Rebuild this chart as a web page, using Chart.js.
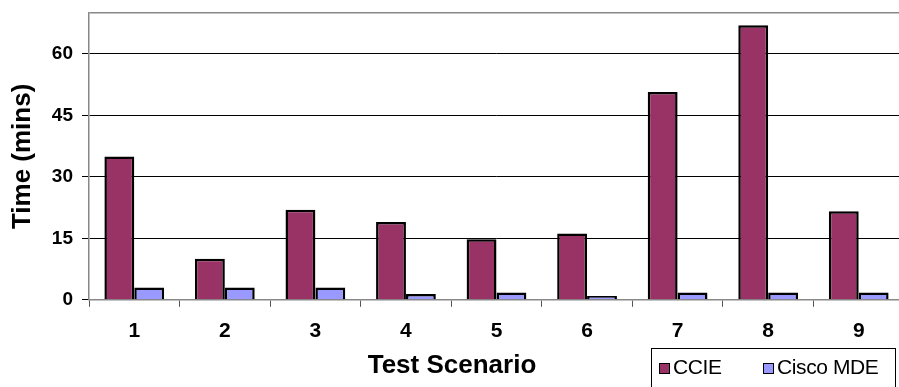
<!DOCTYPE html>
<html>
<head>
<meta charset="utf-8">
<script src="https://cdn.jsdelivr.net/npm/chart.js@4/dist/chart.umd.min.js"></script>
<style>
    html, body { margin: 0; padding: 0; background: #fff; overflow: hidden; }
    #wrap { position: relative; width: 899px; height: 387px; overflow: hidden; }
    #myChart { position: absolute; left: 0; top: 0; }
    #legend {
        position: absolute; left: 651px; top: 348px; width: 245px; height: 60px;
        border: 1px solid #000; box-sizing: border-box;
        font-family: "Liberation Sans", Arial, sans-serif; font-size: 21px; letter-spacing: -0.4px;
    }
    #legend span.item { position: absolute; top: 6px; white-space: nowrap; }
    #legend span.box {
        display: inline-block; width: 9px; height: 9px; border: 1px solid #000;
        margin-right: 3px; vertical-align: 0px;
    }
</style>
</head>
<body>
<div id="wrap">
    <canvas id="myChart" width="906" height="387"></canvas>
    <div id="legend"></div>
</div>
<script>
// Data
var scenarios = ['1', '2', '3', '4', '5', '6', '7', '8', '9'];
var ccieTimes = [35, 10, 22, 19, 14.8, 16.2, 50.7, 67, 21.6];
var mdeTimes = [3, 3, 3, 1.4, 1.8, 0.9, 1.8, 1.8, 1.8];
var seriesNames = ['CCIE', 'Cisco MDE'];
var seriesColors = ['#993366', '#9999FF'];
var yTickValues = [0, 15, 30, 45, 60];

document.addEventListener('DOMContentLoaded', function() {
    var font = '"Liberation Sans", Arial, sans-serif';
    var ctx = document.getElementById('myChart').getContext('2d');

    var myChart = new Chart(ctx, {
        type: 'bar',
        data: {
            labels: scenarios,
            datasets: [{
                label: seriesNames[0],
                data: ccieTimes,
                backgroundColor: seriesColors[0],
                borderColor: '#000',
                borderWidth: 2.5
            }, {
                label: seriesNames[1],
                data: mdeTimes,
                backgroundColor: seriesColors[1],
                borderColor: '#000',
                borderWidth: 2.5
            }]
        },
        options: {
            responsive: false,
            animation: false,
            layout: { padding: { top: 13, right: 2, left: 0, bottom: 0 } },
            datasets: { bar: { barPercentage: 1, categoryPercentage: 0.66 } },
            plugins: {
                legend: { display: false },
                tooltip: { enabled: false },
                title: {
                    display: true,
                    position: 'bottom',
                    text: 'Test Scenario',
                    color: '#000',
                    font: { family: font, size: 26, weight: 'bold' },
                    padding: { top: 0, bottom: 6 }
                }
            },
            scales: {
                x: {
                    grid: {
                        offset: true,
                        drawOnChartArea: false,
                        tickLength: 7,
                        tickColor: '#555'
                    },
                    border: { color: '#888', width: 1.5 },
                    ticks: {
                        color: '#000',
                        padding: 12,
                        font: { family: font, size: 21, weight: 'bold' }
                    },
                    afterFit: function(scale) { scale.height = 50; }
                },
                y: {
                    min: 0,
                    max: 70,
                    afterBuildTicks: function(scale) {
                        scale.ticks = yTickValues.concat([70]).map(function(v) { return { value: v }; });
                    },
                    grid: {
                        color: function(c) {
                            if (c.tick.value === 70) return '#888';
                            if (c.tick.value === 0) return 'transparent';
                            return '#000';
                        },
                        lineWidth: function(c) { return c.tick.value === 70 ? 1.5 : 1; },
                        tickLength: 7,
                        tickColor: function(c) { return c.tick.value === 70 ? 'transparent' : '#000'; }
                    },
                    border: { color: '#888', width: 1.5 },
                    ticks: {
                        color: '#000',
                        padding: 9,
                        font: { family: font, size: 19, weight: 'bold' },
                        callback: function(v) { return v === 70 ? '' : v; }
                    },
                    title: {
                        display: true,
                        text: 'Time (mins)',
                        color: '#000',
                        font: { family: font, size: 26, weight: 'bold' },
                        padding: { top: 7, bottom: 0 }
                    },
                    afterFit: function(scale) {
                        scale.width = 89;
                        scale.paddingTop = 0;
                        scale.paddingBottom = 0;
                    }
                }
            }
        }
    });

    // Legend built from the datasets
    var legend = document.getElementById('legend');
    var lefts = [7, 111];
    myChart.data.datasets.forEach(function(ds, i) {
        var item = document.createElement('span');
        item.className = 'item';
        item.style.left = lefts[i] + 'px';
        var box = document.createElement('span');
        box.className = 'box';
        box.style.background = ds.backgroundColor;
        item.appendChild(box);
        item.appendChild(document.createTextNode(ds.label));
        legend.appendChild(item);
    });
});
</script>
</body>
</html>
